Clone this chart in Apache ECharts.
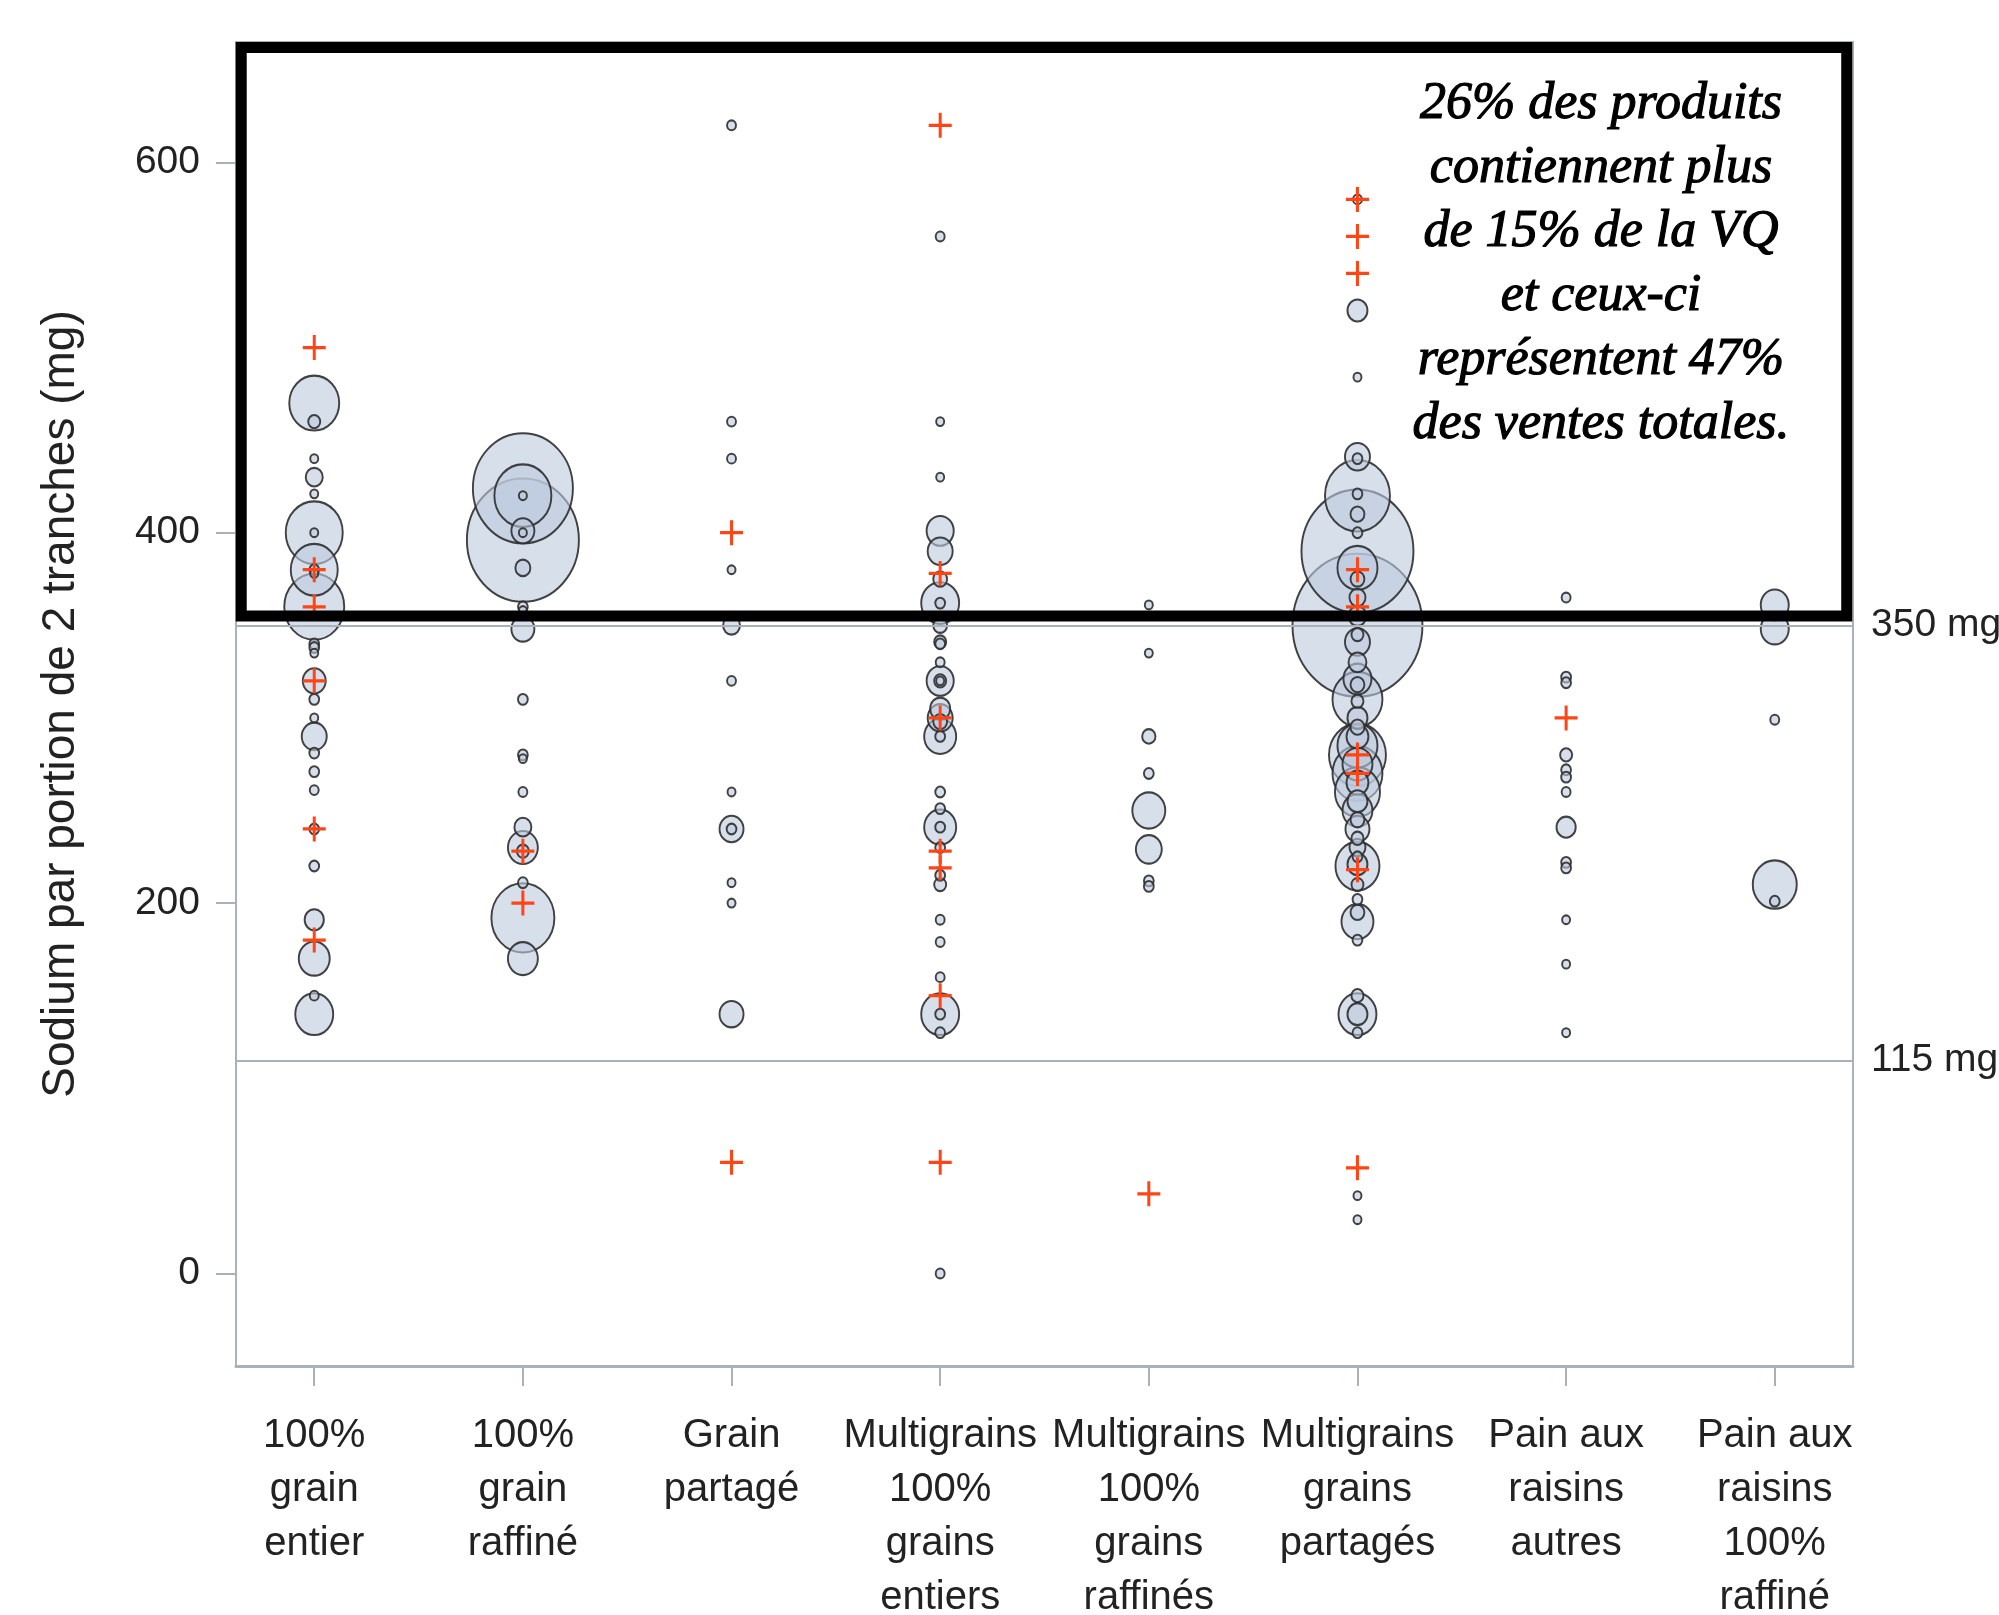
<!DOCTYPE html>
<html>
<head>
<meta charset="utf-8">
<script src="https://cdn.jsdelivr.net/npm/echarts@6/dist/echarts.min.js"></script>
<style>
  html, body { margin: 0; padding: 0; background: #fff; }
  #graph { width: 1999px; height: 1615px; }
</style>
</head>
<body>
<div id="graph"></div>
<script>
// catégories de pain (axe des x)
const categories = [
  '100%\ngrain\nentier',
  '100%\ngrain\nraffiné',
  'Grain\npartagé',
  'Multigrains\n100%\ngrains\nentiers',
  'Multigrains\n100%\ngrains\nraffinés',
  'Multigrains\ngrains\npartagés',
  'Pain aux\nraisins\nautres',
  'Pain aux\nraisins\n100%\nraffiné'
];
const yTicks = [0, 200, 400, 600];
const seuils = [350, 115];

// bulles : [sodium (mg), ventes (indice)]
const bulles100Entier = [[470,156],[460,9],[440,4],[430,18],[421,4],[400,203],[400,4],[380,138],[380,6],[378,4],[360,225],[340,6],[338,6],[335,4],[320,33],[310,6],[300,4],[290,39],[281,6],[271,6],[261,5],[240,6],[220,6],[191,23],[170,60],[150,5],[140,90]];
const bulles100Raffine = [[424,625],[396,784],[420,203],[420,4],[401,33],[400,4],[381,14],[360,6],[358,4],[348,33],[310,6],[280,6],[278,4],[260,5],[241,18],[230,56],[228,9],[211,6],[192,248],[170,56]];
const bullesGrainPartage = [[620,5],[460,5],[440,5],[380,4],[350,18],[320,5],[260,4],[240,36],[240,6],[211,4],[200,4],[140,36]];
const bullesMultiEntiers = [[560,5],[460,4],[430,4],[401,46],[390,39],[375,12],[362,90],[362,6],[350,12],[341,9],[340,6],[330,5],[320,46],[320,9],[320,4],[305,25],[300,39],[298,12],[290,64],[290,6],[260,6],[251,6],[241,64],[241,6],[230,6],[215,6],[210,9],[191,5],[179,5],[160,5],[140,90],[140,6],[130,6],[0,5]];
const bullesMultiRaffines = [[361,4],[335,4],[290,11],[270,6],[250,68],[229,42],[212,6],[209,6]];
const bullesMultiPartages = [[580,5],[520,25],[484,4],[441,39],[440,6],[420,264],[421,6],[410,12],[400,6],[390,784],[381,100],[375,12],[365,16],[350,1056],[355,20],[345,9],[341,39],[330,20],[321,49],[318,12],[310,156],[309,9],[300,25],[295,12],[290,30],[285,100],[280,203],[275,56],[270,156],[265,30],[260,127],[255,25],[250,56],[245,12],[240,36],[235,9],[230,16],[225,6],[220,121],[221,25],[210,9],[202,6],[195,12],[190,64],[180,6],[150,9],[140,90],[140,25],[130,6],[42,4],[29,4]];
const bullesRaisinsAutres = [[365,5],[322,6],[319,6],[280,9],[272,6],[268,6],[260,5],[241,23],[222,6],[219,6],[191,4],[167,4],[130,4]];
const bullesRaisinsRaffine = [[361,49],[348,49],[299,5],[210,121],[201,6]];

// croix orange : [catégorie, sodium (mg)]
const croix = [[0,500],[0,380],[0,360],[0,320],[0,240],[0,180],
  [1,228],[1,200],
  [2,400],[2,60],
  [3,620],[3,378],[3,300],[3,228],[3,219],[3,150],[3,60],
  [4,43],
  [5,580],[5,560],[5,540],[5,380],[5,360],[5,280],[5,270],[5,218],[5,57],
  [6,300]];

const groupes = [bulles100Entier, bulles100Raffine, bullesGrainPartage, bullesMultiEntiers,
  bullesMultiRaffines, bullesMultiPartages, bullesRaisinsAutres, bullesRaisinsRaffine];

// police étroite si disponible
function hasFont(name) {
  const ctx = document.createElement('canvas').getContext('2d');
  ctx.font = '40px monospace';
  const a = ctx.measureText('Multigrains 100%').width;
  ctx.font = '40px "' + name + '", monospace';
  return ctx.measureText('Multigrains 100%').width !== a;
}
const narrow = hasFont('Liberation Sans Narrow');
const labelFont = narrow ? '"Liberation Sans Narrow", "Liberation Sans", sans-serif' : '"Liberation Sans", Arial, sans-serif';
const labelSize = narrow ? 47 : 39;

let bulles = [];
groupes.forEach((g, i) => g.forEach(b => bulles.push([i, b[0], b[1]])));
bulles.sort((a, b) => b[2] - a[2]);

const dom = document.getElementById('graph');
const myChart = echarts.init(dom, null, { renderer: 'canvas' });
const gris = '#a9b1b9';

const option = {
  animation: false,
  backgroundColor: '#fff',
  grid: {
    left: 236, right: 146, top: 42, bottom: 249,
    containLabel: false, outerBoundsMode: 'none',
    show: true, borderColor: gris, borderWidth: 2
  },
  xAxis: {
    type: 'value',
    min: -0.375,
    max: 7.375,
    splitLine: { show: false },
    axisLine: { show: true, onZero: false, lineStyle: { color: gris, width: 3 } },
    axisTick: { show: true, customValues: categories.map((c, i) => i), length: 20, lineStyle: { color: gris, width: 2 } },
    axisLabel: {
      customValues: categories.map((c, i) => i),
      formatter: v => categories[Math.round(v)],
      margin: 43,
      fontSize: labelSize + 1,
      lineHeight: 54,
      color: '#222',
      fontFamily: labelFont,
      verticalAlign: 'top'
    }
  },
  yAxis: {
    type: 'value',
    min: -50,
    max: 665,
    splitLine: { show: false },
    axisLine: { show: true, onZero: false, lineStyle: { color: gris, width: 2 } },
    axisTick: { show: true, customValues: yTicks, length: 20, lineStyle: { color: gris, width: 2 } },
    axisLabel: { customValues: yTicks, margin: 36, fontSize: labelSize, color: '#222', fontFamily: labelFont },
    name: 'Sodium par portion de 2 tranches (mg)',
    nameLocation: 'middle',
    nameGap: 152,
    nameRotate: 90,
    nameTextStyle: { fontSize: 46, color: '#222', fontFamily: '"Liberation Sans", Arial, sans-serif' }
  },
  series: [
    {
      type: 'scatter',
      data: bulles,
      symbol: 'circle',
      symbolSize: v => { const d = 4 * Math.sqrt(v[2]); return [d, d * 1.1]; },
      itemStyle: { color: 'rgba(188,201,222,0.6)', borderColor: 'rgba(45,45,45,0.9)', borderWidth: 2, opacity: 1 },
      silent: true,
      z: 2,
      markLine: {
        silent: true,
        symbol: 'none',
        lineStyle: { color: gris, width: 2, type: 'solid' },
        label: { position: 'end', distance: 18, fontSize: labelSize, color: '#222', fontFamily: labelFont, formatter: p => p.value + ' mg' },
        data: seuils.map(s => ({ yAxis: s }))
      }
    },
    {
      type: 'scatter',
      data: croix,
      symbol: 'path://M8.7,0h2.6v8.7h8.7v2.6h-8.7v8.7h-2.6v-8.7h-8.7v-2.6h8.7z',
      symbolSize: [23, 25],
      itemStyle: { color: '#ff4515', opacity: 1 },
      silent: true,
      z: 3
    }
  ]
};
myChart.setOption(option);

// encadré noir (coin haut-gauche et bas-droit en valeurs d'axe)
const p1 = myChart.convertToPixel({ gridIndex: 0 }, [-0.35, 662]);
const p2 = myChart.convertToPixel({ gridIndex: 0 }, [7.345, 355]);
myChart.setOption({
  graphic: [
    {
      type: 'rect',
      z: 100,
      shape: { x: p1[0], y: p1[1], width: p2[0] - p1[0], height: p2[1] - p1[1] },
      style: { fill: 'rgba(0,0,0,0)', stroke: '#000', lineWidth: 11 }
    },
    {
      type: 'text',
      z: 101,
      x: 1601,
      y: 72,
      style: {
        text: '26% des produits\ncontiennent plus\nde 15% de la VQ\net ceux-ci\nreprésentent 47%\ndes ventes totales.',
        font: 'italic 52px "Liberation Serif", "Times New Roman", serif',
        fill: '#000',
        stroke: '#000',
        lineWidth: 1.2,
        align: 'center',
        verticalAlign: 'top',
        lineHeight: 64
      }
    }
  ]
});
</script>
</body>
</html>
